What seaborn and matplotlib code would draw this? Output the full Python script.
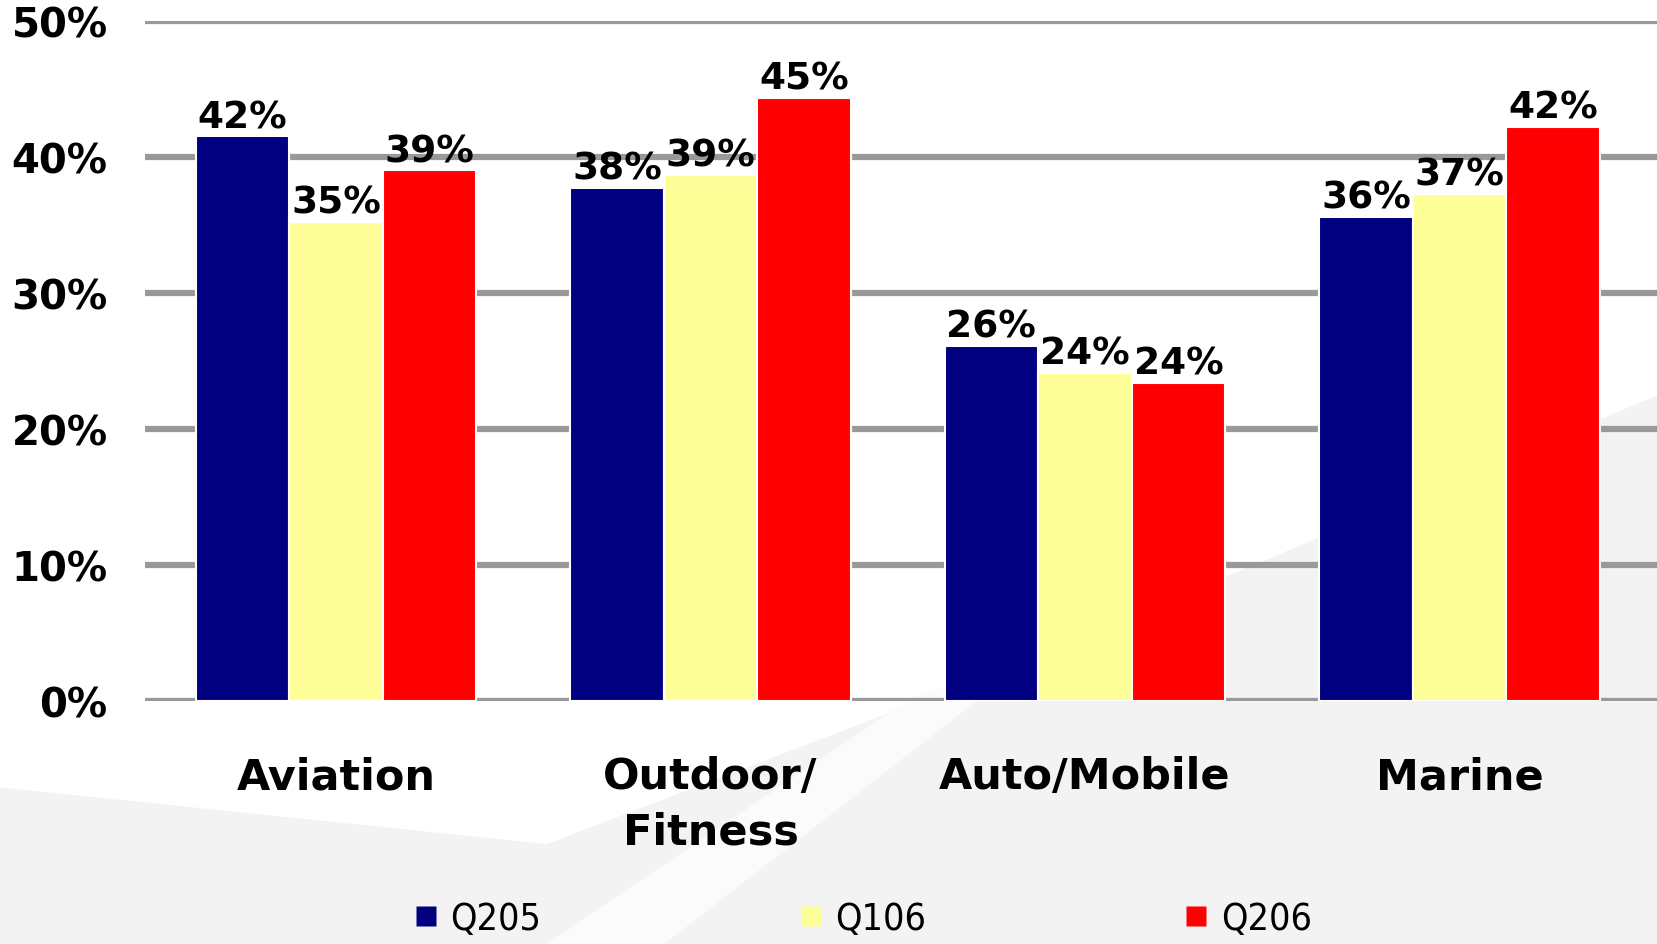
import numpy as np
import pandas as pd

import matplotlib as mpl
import matplotlib.pyplot as plt
from matplotlib.lines import Line2D
from matplotlib.patches import Polygon

import seaborn as sns

categories = ['Aviation', 'Outdoor/\nFitness', 'Auto/Mobile', 'Marine']
series = ['Q205', 'Q106', 'Q206']
q205 = [41.5, 37.7, 26.1, 35.6]
q106 = [35.2, 38.7, 24.1, 37.3]
q206 = [39.0, 44.3, 23.4, 42.2]
q205_labels = ['42%', '38%', '26%', '36%']
q106_labels = ['35%', '39%', '24%', '37%']
q206_labels = ['39%', '45%', '24%', '42%']
colors = ['#000080', '#FFFF99', '#FF0000']

df = pd.DataFrame({
    'category': categories * 3,
    'series': [s for s in series for _ in categories],
    'value': q205 + q106 + q206,
})

sns.set_style('white')
plt.rcParams['font.family'] = ['DejaVu Sans']
plt.rcParams['text.color'] = 'black'
plt.rcParams['xtick.color'] = 'black'
plt.rcParams['ytick.color'] = 'black'

fig = plt.figure(figsize=(16.58, 9.45), dpi=100)

# light grey swoosh in the background
fig.patches.append(Polygon([(0, 0), (0, 0.165), (0.33, 0.105), (0.62, 0.30),
                            (1, 0.58), (1, 0)], closed=True,
                           transform=fig.transFigure, color='#f3f3f3', zorder=-2))
fig.patches.append(Polygon([(0.33, 0), (0.40, 0.0), (0.62, 0.30), (0.55, 0.26)],
                           closed=True, transform=fig.transFigure,
                           color='#fbfbfb', zorder=-1))

ax = fig.add_axes([0.0875, 0.257, 0.9125, 0.72])
ax.patch.set_alpha(0)

sns.barplot(data=df, x='category', y='value', hue='series', palette=colors,
            width=0.75, edgecolor='white', linewidth=1.5, saturation=1,
            ax=ax, zorder=3, legend=False)

for cont, labs in zip(ax.containers, [q205_labels, q106_labels, q206_labels]):
    ax.bar_label(cont, labels=labs, fontsize=27, fontweight='bold', padding=1)

ax.set_ylim(0, 50)
ax.set_xlim(-0.51, 3.53)
ax.set_yticks(range(0, 51, 10))
ax.set_yticklabels([f'{v}%' for v in range(0, 51, 10)], fontsize=29, fontweight='bold')
ax.tick_params(axis='y', length=0, pad=27)
ax.tick_params(axis='x', length=0, pad=39, labelsize=31)
for t in ax.get_xticklabels():
    t.set_fontweight('bold')
    t.set_linespacing(1.4)
ax.set(xlabel='', ylabel='')
ax.yaxis.grid(True, color='#999999', linewidth=4.5, zorder=0)
ax.set_axisbelow(True)
sns.despine(ax=ax, left=True, bottom=True)

handles = [Line2D([], [], marker='s', linestyle='none', markersize=15,
                  markerfacecolor=c, markeredgecolor='none') for c in colors]
fig.legend(handles, series, ncol=3, loc='center', bbox_to_anchor=(0.52, 0.026),
           frameon=False, handlelength=0.7, handletextpad=0.3,
           columnspacing=6.85, prop={'family': 'DejaVu Sans', 'stretch': 'condensed', 'size': 27})

fig.savefig('out.png', dpi=100)
